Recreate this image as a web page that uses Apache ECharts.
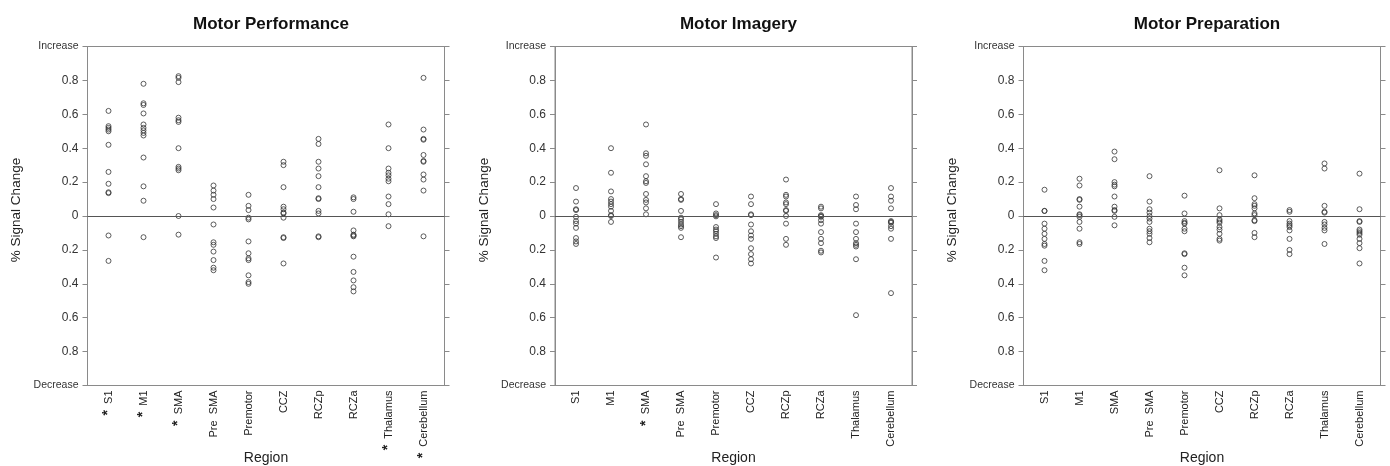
<!DOCTYPE html>
<html>
<head>
<meta charset="utf-8">
<script src="https://cdn.jsdelivr.net/npm/echarts@6.0.0/dist/echarts.min.js"></script>
<style>
html,body{margin:0;padding:0;background:#fff;}
#chart{width:1390px;height:466px;}
</style>
</head>
<body>
<div id="chart"></div>
<script>
// ---- data ----
const categories = ['S1','M1','SMA','Pre  SMA','Premotor','CCZ','RCZp','RCZa','Thalamus','Cerebellum'];
const panelTitles = ['Motor Performance','Motor Imagery','Motor Preparation'];
const yTickValues = [-1,-0.8,-0.6,-0.4,-0.2,0,0.2,0.4,0.6,0.8,1];

const perfStars = ['S1','M1','SMA','Thalamus','Cerebellum'];
const imagStars = ['SMA'];
const prepStars = [];

const perf = [
 [0.62,0.53,0.52,0.51,0.50,0.42,0.26,0.19,0.14,0.135,-0.115,-0.265],
 [0.78,0.665,0.655,0.605,0.54,0.52,0.505,0.49,0.475,0.345,0.175,0.09,-0.125],
 [0.825,0.815,0.79,0.58,0.565,0.555,0.40,0.29,0.28,0.27,0.0,-0.11],
 [0.18,0.15,0.125,0.10,0.05,-0.05,-0.155,-0.17,-0.21,-0.26,-0.305,-0.32],
 [0.125,0.06,0.035,-0.01,-0.02,-0.15,-0.22,-0.25,-0.26,-0.35,-0.39,-0.40],
 [0.32,0.30,0.17,0.055,0.04,0.02,0.015,-0.01,-0.125,-0.13,-0.28],
 [0.455,0.425,0.32,0.28,0.235,0.17,0.105,0.10,0.03,0.015,-0.12,-0.125],
 [0.11,0.10,0.025,-0.085,-0.11,-0.115,-0.12,-0.24,-0.33,-0.38,-0.42,-0.445],
 [0.54,0.40,0.28,0.255,0.24,0.22,0.205,0.115,0.07,0.01,-0.06],
 [0.815,0.51,0.455,0.45,0.36,0.325,0.32,0.245,0.215,0.15,-0.12]
];
const imag = [
 [0.165,0.085,0.04,0.035,-0.005,-0.03,-0.045,-0.07,-0.13,-0.15,-0.165],
 [0.40,0.255,0.145,0.10,0.085,0.07,0.055,0.03,0.005,0.0,-0.035],
 [0.54,0.37,0.355,0.305,0.235,0.205,0.195,0.13,0.095,0.08,0.045,0.01],
 [0.13,0.10,0.095,0.03,-0.01,-0.02,-0.035,-0.05,-0.06,-0.07,-0.125],
 [0.07,0.015,0.005,-0.002,-0.065,-0.08,-0.09,-0.105,-0.12,-0.13,-0.245],
 [0.115,0.07,0.01,0.005,-0.05,-0.09,-0.115,-0.135,-0.19,-0.225,-0.255,-0.28],
 [0.215,0.125,0.115,0.08,0.07,0.035,0.03,0.0,-0.045,-0.135,-0.17],
 [0.055,0.045,0.005,0.0,-0.005,-0.025,-0.045,-0.095,-0.135,-0.16,-0.205,-0.215],
 [0.115,0.065,0.04,-0.045,-0.095,-0.135,-0.16,-0.17,-0.18,-0.255,-0.585],
 [0.165,0.115,0.09,0.045,-0.03,-0.035,-0.04,-0.06,-0.075,-0.135,-0.455]
];
const prep = [
 [0.155,0.03,0.03,-0.045,-0.075,-0.105,-0.135,-0.165,-0.175,-0.265,-0.32],
 [0.22,0.18,0.10,0.095,0.055,0.01,0.005,-0.005,-0.035,-0.075,-0.155,-0.165],
 [0.38,0.335,0.20,0.185,0.175,0.115,0.055,0.035,0.03,-0.005,-0.055],
 [0.235,0.085,0.04,0.02,0.0,-0.015,-0.035,-0.075,-0.09,-0.105,-0.13,-0.155],
 [0.12,0.015,-0.03,-0.04,-0.045,-0.075,-0.09,-0.22,-0.225,-0.305,-0.35],
 [0.27,0.045,0.005,-0.02,-0.03,-0.04,-0.065,-0.08,-0.105,-0.135,-0.145],
 [0.24,0.105,0.07,0.06,0.045,0.015,0.005,-0.025,-0.03,-0.10,-0.125],
 [0.035,0.025,-0.03,-0.045,-0.055,-0.065,-0.085,-0.135,-0.20,-0.225],
 [0.31,0.28,0.06,0.025,0.02,-0.035,-0.05,-0.07,-0.085,-0.165],
 [0.25,0.04,-0.03,-0.035,-0.08,-0.09,-0.10,-0.11,-0.135,-0.16,-0.19,-0.28]
];

// ---- chart ----
const FONT = '"Liberation Sans", Arial, Helvetica, sans-serif';
const panels = [
  {data: perf, stars: perfStars, left: 87.5},
  {data: imag, stars: imagStars, left: 555},
  {data: prep, stars: prepStars, left: 1023.5}
];
const GW = 357, GT = 46.5, GH = 339;
const frame = '#8a8a8a';
const catPos = categories.map((c, i) => i + 1);

const option = {
  animation: false,
  backgroundColor: '#fff',
  title: [], grid: [], xAxis: [], yAxis: [], series: []
};

panels.forEach((p, k) => {
  option.title.push({
    text: panelTitles[k],
    left: p.left + GW / 2, top: 11, textAlign: 'center',
    textStyle: {fontFamily: FONT, fontSize: 17, fontWeight: 'bold', color: '#111'}
  });
  option.grid.push({
    left: p.left, top: GT, width: GW, height: GH,
    outerBoundsMode: 'none', containLabel: false,
    show: true, borderColor: frame, borderWidth: 1, backgroundColor: 'transparent'
  });
  option.xAxis.push({
    type: 'value', gridIndex: k, min: 0.4, max: 10.6,
    name: 'Region', nameLocation: 'middle', nameGap: 66, nameMoveOverlap: false,
    nameTextStyle: {fontFamily: FONT, fontSize: 14, color: '#222'},
    axisLine: {show: true, onZero: false, lineStyle: {color: frame, width: 1}},
    axisTick: {show: false},
    splitLine: {show: false},
    axisLabel: {
      customValues: catPos, rotate: 90, margin: 5,
      fontFamily: FONT, fontSize: 11, color: '#222',
      formatter: function (v) {
        const name = categories[Math.round(v) - 1];
        return p.stars.indexOf(name) >= 0 ? '{s|*}  ' + name : name;
      },
      rich: {s: {fontSize: 14, fontWeight: 'bold', color: '#222', fontFamily: FONT}}
    }
  });
  const yLab = function (v) {
    if (v > 0.99) return '{w|Increase}';
    if (v < -0.99) return '{w|Decrease}';
    const a = Math.abs(v);
    if (a < 1e-6) return '0';
    return a.toFixed(1);
  };
  option.yAxis.push({
    type: 'value', gridIndex: k, min: -1, max: 1, interval: 0.2, position: 'left',
    name: '% Signal Change', nameLocation: 'middle', nameGap: 64, nameMoveOverlap: false,
    nameTextStyle: {fontFamily: FONT, fontSize: 13.5, color: '#222', padding: [0, 0, 0, 12]},
    axisLine: {show: true, lineStyle: {color: frame, width: 1}},
    axisTick: {show: true, inside: false, length: 5, lineStyle: {color: frame}},
    splitLine: {show: false},
    axisLabel: {
      margin: 9, fontFamily: FONT, fontSize: 12, color: '#333', formatter: yLab,
      rich: {w: {fontSize: 10.5, color: '#333', fontFamily: FONT}}
    }
  });
  option.yAxis.push({
    type: 'value', gridIndex: k, min: -1, max: 1, interval: 0.2, position: 'right',
    axisLine: {show: true, lineStyle: {color: frame, width: 1}},
    axisTick: {show: true, inside: false, length: 5, lineStyle: {color: frame}},
    splitLine: {show: false},
    axisLabel: {show: false}
  });
  const pts = [];
  p.data.forEach((vals, i) => vals.forEach(v => pts.push([i + 1, v])));
  option.series.push({
    type: 'scatter', xAxisIndex: k, yAxisIndex: 2 * k,
    symbol: 'circle', symbolSize: 5,
    itemStyle: {color: 'rgba(255,255,255,0)', borderColor: '#333', borderWidth: 0.8, opacity: 1},
    data: pts,
    markLine: {
      silent: true, symbol: 'none', label: {show: false},
      lineStyle: {color: '#555', width: 1, type: 'solid'},
      data: [{yAxis: 0}]
    }
  });
});

const chart = echarts.init(document.getElementById('chart'), null, {renderer: 'canvas'});
chart.setOption(option);
</script>
</body>
</html>
